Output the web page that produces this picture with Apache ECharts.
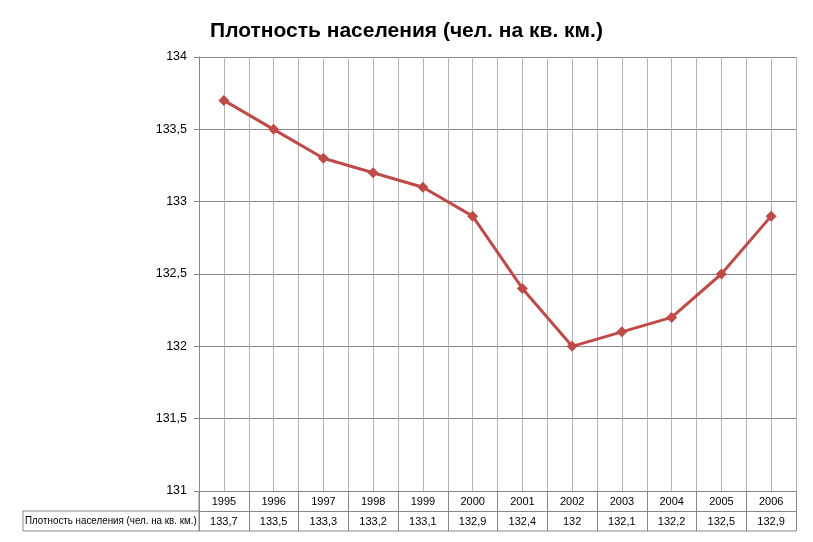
<!DOCTYPE html>
<html><head><meta charset="utf-8">
<script src="https://cdn.jsdelivr.net/npm/echarts@6/dist/echarts.min.js"></script>
<style>html,body{margin:0;padding:0;background:#fff}#c{width:813px;height:542px}</style>
</head><body><div id="c"></div>
<script>
const titleText = 'Плотность населения (чел. на кв. км.)';
const seriesName = 'Плотность населения (чел. на кв. км.)';
const years = ['1995','1996','1997','1998','1999','2000','2001','2002','2003','2004','2005','2006'];
const density = [133.7,133.5,133.3,133.2,133.1,132.9,132.4,132,132.1,132.2,132.5,132.9];
const yMin = 131, yMax = 134, yStep = 0.5;

const fmt = v => String(v).replace('.', ',');
const G = {left:199, right:17, top:57, bottom:51};
const rowH = 20;
const baseFont = 'Liberation Sans, Arial, sans-serif';
const gridColor = '#868686';
const lightGrid = '#b4b4b4';

const chart = echarts.init(document.getElementById('c'), null, {renderer:'canvas'});
chart.setOption({
  animation:false,
  title:{text:titleText, left:'center', top:16, textStyle:{fontFamily:baseFont, fontWeight:'bold', fontSize:21, color:'#000'}},
  grid:{left:G.left, right:G.right, top:G.top, bottom:G.bottom, containLabel:false},
  xAxis:[
    {type:'category', data:years, boundaryGap:true, position:'bottom',
     axisLine:{show:true, lineStyle:{color:gridColor, width:1}},
     axisTick:{show:true, length:rowH, interval:0, lineStyle:{color:gridColor}},
     axisLabel:{margin:5, color:'#000', fontSize:11, fontFamily:baseFont, interval:0},
     splitLine:{show:false}},
    {type:'category', data:density.map(fmt), boundaryGap:true, position:'bottom', offset:rowH,
     axisLine:{show:true, lineStyle:{color:gridColor, width:1}},
     axisTick:{show:true, length:rowH, interval:0, lineStyle:{color:gridColor}},
     axisLabel:{margin:5, color:'#000', fontSize:11, fontFamily:baseFont, interval:0},
     splitLine:{show:false}},
    {type:'value', min:0, max:years.length, interval:0.5, show:true, position:'top',
     axisLine:{show:false}, axisTick:{show:false}, axisLabel:{show:false},
     splitLine:{show:true, lineStyle:{color:lightGrid, width:1}}}
  ],
  yAxis:{type:'value', min:yMin, max:yMax, interval:yStep,
     axisLine:{show:true, lineStyle:{color:gridColor}},
     axisTick:{show:true, length:5, lineStyle:{color:gridColor}},
     axisLabel:{margin:12, color:'#000', fontSize:12.5, fontFamily:baseFont, formatter:v=>fmt(v)},
     splitLine:{show:true, lineStyle:{color:gridColor, width:1}}},
  series:[{name:seriesName, type:'line', xAxisIndex:0, data:density,
     symbol:'diamond', symbolSize:11, lineStyle:{color:'#BE4B48', width:3},
     itemStyle:{color:'#BE4B48'}}]
});

// table frame: bottom line and row header cell
const W = 813, H = 542;
const yAxisLine = H - G.bottom;
const y1 = yAxisLine + rowH, y2 = yAxisLine + 2*rowH;
const hdrLeft = 23;
chart.setOption({graphic:[
  {type:'line', shape:{x1:hdrLeft, y1:y1, x2:G.left, y2:y1}, style:{stroke:gridColor, lineWidth:1}},
  {type:'line', shape:{x1:hdrLeft, y1:y2, x2:W-G.right, y2:y2}, style:{stroke:gridColor, lineWidth:1}},
  {type:'line', shape:{x1:hdrLeft, y1:y1, x2:hdrLeft, y2:y2}, style:{stroke:gridColor, lineWidth:1}},
  {type:'line', shape:{x1:G.left, y1:yAxisLine, x2:G.left, y2:y2}, style:{stroke:gridColor, lineWidth:1}},
  {type:'text', x:hdrLeft+2, y:(y1+y2)/2, scaleX:0.89,
   style:{text:seriesName, fontSize:11, fontFamily:baseFont, fill:'#000', verticalAlign:'middle', align:'left'}}
]});
</script></body></html>
